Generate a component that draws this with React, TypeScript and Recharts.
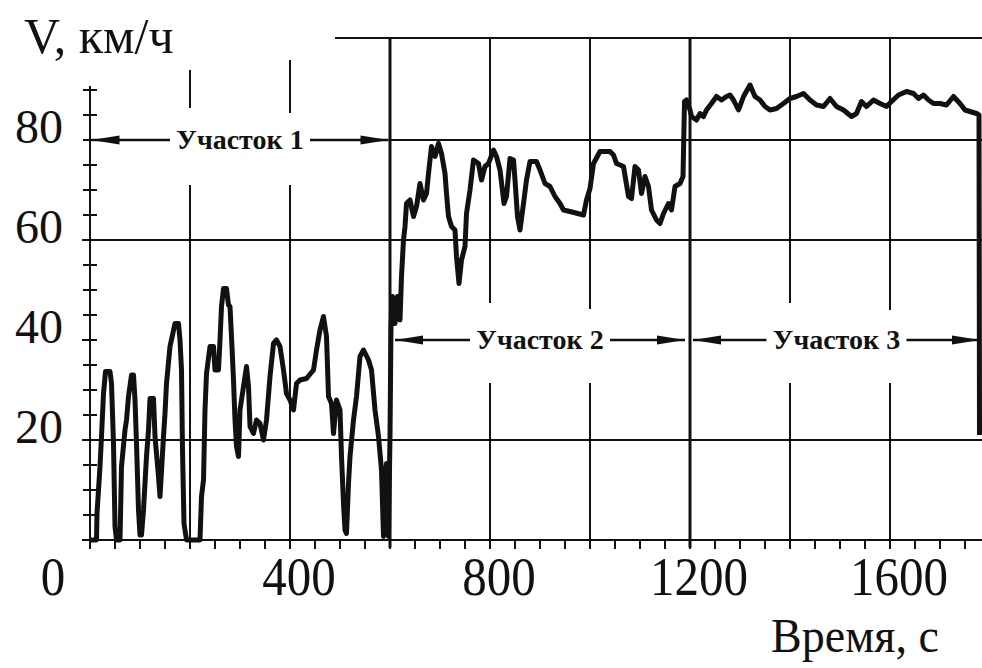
import { LineChart, Line, XAxis, YAxis, ReferenceLine, Label } from 'recharts';

// Участок 1: 0..600 c
const part1Time = [
  0, 13, 14, 20, 23, 27, 31, 40, 43, 47, 50, 53, 60, 63, 70, 73, 77, 83, 87, 90, 93, 97, 100, 103, 107,
  113, 117, 120, 127, 130, 137, 140, 147, 150, 153, 160, 170, 177, 180, 183, 185, 188, 193, 220, 223,
  227, 230, 233, 240, 247, 250, 257, 260, 263, 267, 273, 277, 280, 283, 287, 290, 293, 297, 300, 307,
  313, 317, 320, 327, 333, 340, 347, 353, 360, 367, 373, 380, 387, 393, 400, 407, 413, 420, 433, 447,
  453, 460, 467, 473, 477, 483, 487, 493, 500, 503, 507, 510, 513, 517, 520, 527, 533, 540, 547, 557,
  563, 570, 577, 583, 587, 590, 593, 597,
];
const part1Speed = [
  0, 0, 5.3, 14.7, 20.7, 29.3, 33.7, 33.7, 31.3, 19.3, 2.7, 0, 0, 14.7, 22, 24, 28.7, 33, 33, 28, 19.3, 6, 1, 1, 6,
  16.7, 22, 28.3, 28.3, 20.7, 12.7, 8.7, 20.7, 25.3, 31.3, 38.7, 43.3, 43.3, 40, 34, 18, 3.3, 0, 0, 8.7,
  12, 26, 33.3, 38.7, 38.7, 34, 34, 40, 46.7, 50.3, 50.3, 47, 46.7, 40.7, 32, 24, 18.7, 16.7, 26, 30.7,
  34.7, 30.7, 22.7, 21.3, 24, 23.3, 20, 24, 32.7, 39.3, 40, 38.7, 34, 29.3, 28, 26, 31.3, 32, 32.3, 34,
  38, 42, 44.7, 40.7, 28.7, 27.3, 21.3, 28, 26, 16.7, 7.3, 2, 1.3, 11.3, 16.7, 24, 28.7, 36.7, 38, 36,
  34, 26, 20.7, 14, 0.7, 11.3, 15.3, 0.7,
];

// Участок 2: 600..1200 c
const part2Time = [
  600, 602, 605, 610, 615, 620, 623, 627, 630, 633, 640, 647, 653, 660, 667, 673, 677, 683, 690, 697,
  703, 710, 713, 717, 723, 730, 733, 738, 743, 750, 753, 760, 767, 777, 783, 790, 797, 807, 813, 820,
  828, 833, 840, 847, 850, 855, 860, 867, 873, 880, 893, 900, 910, 920, 930, 940, 947, 960, 987, 993,
  1000, 1007, 1020, 1040, 1047, 1053, 1067, 1077, 1083, 1090, 1097, 1103, 1110, 1117, 1123, 1133, 1140,
  1147, 1157, 1163, 1170, 1180, 1186,
];
const part2Speed = [
  20.7, 42.7, 48.7, 43.3, 48.7, 44, 52.7, 60, 62.7, 67.3, 68, 64.7, 66.7, 71.3, 68, 69.3, 73.3, 78.7, 76.7, 79.3,
  77.3, 73.3, 69.3, 64.7, 62.7, 62, 56.7, 51.3, 56, 58.7, 65.3, 70, 76, 75.3, 72, 74.7, 75.3, 78, 76.7, 74,
  67.3, 68.7, 76.3, 76, 72, 64.7, 62, 67.3, 72, 75.7, 75.7, 74, 71.3, 70.7, 68.7, 67.3, 66, 65.7, 65, 68,
  70.3, 75.3, 77.7, 77.7, 77, 75.3, 74.7, 68.7, 68.3, 74.7, 74, 69.3, 72.7, 70.7, 66, 64, 63.3,
  65.3, 67.3, 66, 70.7, 71.3, 72.7,
];

// Участок 3: 1200..1780 c
const part3Time = [
  1189, 1193, 1200, 1203, 1213, 1220, 1227, 1233, 1243, 1253, 1263, 1273, 1280, 1287, 1297, 1307, 1320,
  1330, 1340, 1350, 1360, 1373, 1387, 1400, 1413, 1427, 1440, 1453, 1467, 1480, 1493, 1507, 1523, 1533,
  1543, 1553, 1567, 1580, 1593, 1603, 1617, 1633, 1647, 1657, 1667, 1677, 1687, 1700, 1713, 1727, 1740,
  1750, 1760, 1773, 1778, 1779,
];
const part3Speed = [
  87.7, 88, 86, 84.7, 84, 85.3, 84.7, 86, 87.3, 88.7, 88, 88.7, 89, 88, 86, 88.7, 91,
  88.7, 88, 86.7, 86, 86.3, 87.3, 88.3, 88.7, 89.3, 88, 87, 86.7, 88.3, 86.7, 86, 84.7, 85.3,
  87.7, 86.7, 88, 87.3, 86.7, 87.7, 89, 89.7, 89.3, 88.3, 89, 88, 87.3, 87.3, 87, 88.7, 87.3,
  86, 85.7, 85.3, 85, 21,
];

const xTicks = [
  0, 50, 100, 150, 200, 250, 300, 350, 400, 450, 500, 550, 600, 650, 700, 750, 800, 850, 900, 950,
  1000, 1050, 1100, 1150, 1200, 1250, 1300, 1350, 1400, 1450, 1500, 1550, 1600, 1650, 1700, 1750,
];
const xLabels = [400, 800, 1200, 1600];
const yTicks = [0, 5, 10, 15, 20, 25, 30, 35, 40, 45, 50, 55, 60, 65, 70, 75, 80, 85, 90];
const yLabels = [20, 40, 60, 80];

const sections = [
  { from: 3, to: 597, level: 80, text: 'Участок 1' },
  { from: 610, to: 1190, level: 40, text: 'Участок 2' },
  { from: 1206, to: 1780, level: 40, text: 'Участок 3' },
];

const data = [
  ...part1Time.map((t, i) => ({ t, v: part1Speed[i] })),
  ...part2Time.map((t, i) => ({ t, v: part2Speed[i] })),
  ...part3Time.map((t, i) => ({ t, v: part3Speed[i] })),
];

const SERIF = '"Liberation Serif", "Times New Roman", serif';
const INK = '#111';

// grid lines with the gaps left around the labels
const vGrid: { t: number; parts: [number, number][]; w: number }[] = [
  { t: 0, parts: [[0, 90.8]], w: 2 },
  { t: 200, parts: [[0, 71], [86.4, 94]], w: 2 },
  { t: 400, parts: [[0, 71], [85.4, 96]], w: 2 },
  { t: 600, parts: [[-1.5, 100.4]], w: 3 },
  { t: 800, parts: [[0, 31.4], [47.4, 100.4]], w: 2 },
  { t: 1000, parts: [[0, 31.4], [46.2, 100.4]], w: 2 },
  { t: 1200, parts: [[-1.5, 100.4]], w: 3 },
  { t: 1400, parts: [[0, 31.4], [47.4, 100.4]], w: 2 },
  { t: 1600, parts: [[0, 31.4], [46, 100.4]], w: 2 },
];
const hGrid: { v: number; from: number; to: number }[] = [
  { v: 0, from: -16, to: 1784 },
  { v: 20, from: -16, to: 1784 },
  { v: 60, from: -16, to: 1784 },
  { v: 80, from: 600, to: 1784 },
  { v: 40, from: -16, to: 0 },
  { v: 100.4, from: 490, to: 1784 },
];

function XTick({ x, y, payload }: any) {
  const v = payload.value;
  return (
    <g>
      <line x1={x} y1={y} x2={x} y2={y + 9} stroke={INK} strokeWidth={2} />
      {xLabels.includes(v) && (
        <text
          transform={`translate(${x + 9},${y + 55}) scale(1,1.1)`}
          textAnchor="middle"
          fontFamily={SERIF}
          fontSize={49}
          fill={INK}
        >
          {v}
        </text>
      )}
      {v === 0 && (
        <text
          transform={`translate(${x - 37},${y + 55}) scale(1,1.1)`}
          textAnchor="middle"
          fontFamily={SERIF}
          fontSize={49}
          fill={INK}
        >
          0
        </text>
      )}
    </g>
  );
}

function YTick({ x, y, payload }: any) {
  const v = payload.value;
  return (
    <g>
      <line x1={x - 7} y1={y} x2={x + 7} y2={y} stroke={INK} strokeWidth={2} />
      {yLabels.includes(v) && (
        <text x={x - 27} y={y + 3} textAnchor="end" fontFamily={SERIF} fontSize={48} fill={INK}>
          {v}
        </text>
      )}
    </g>
  );
}

function SectionArrow({ x1, y1, x2, text }: any) {
  const cx = (x1 + x2) / 2;
  const half = 70;
  const y = y1;
  return (
    <g>
      <line x1={x1} y1={y} x2={cx - half} y2={y} stroke={INK} strokeWidth={2.5} />
      <line x1={cx + half} y1={y} x2={x2} y2={y} stroke={INK} strokeWidth={2.5} />
      <polygon points={`${x1},${y} ${x1 + 28},${y - 4.5} ${x1 + 28},${y + 4.5}`} fill={INK} />
      <polygon points={`${x2},${y} ${x2 - 28},${y - 4.5} ${x2 - 28},${y + 4.5}`} fill={INK} />
      <text
        x={cx}
        y={y + 9}
        textAnchor="middle"
        fontFamily={SERIF}
        fontWeight="bold"
        fontSize={28}
        fill={INK}
      >
        {text}
      </text>
    </g>
  );
}

export default function App() {
  return (
    <div style={{ position: 'absolute', left: 0, top: 0, background: '#fff' }}>
      <LineChart width={982} height={668} data={data} margin={{ top: 40, right: 2, bottom: 0, left: 0 }}>
        <XAxis
          dataKey="t"
          type="number"
          domain={[0, 1780]}
          ticks={xTicks}
          interval={0}
          height={128}
          axisLine={false}
          tickLine={false}
          tickSize={0}
          tickMargin={0}
          tick={<XTick />}
        >
          <Label
            content={() => (
              <text
                transform="translate(855,652) scale(1,1.05)"
                textAnchor="middle"
                fontFamily={SERIF}
                fontSize={46}
                fill={INK}
              >
                Время, с
              </text>
            )}
          />
        </XAxis>
        <YAxis
          type="number"
          domain={[0, 100]}
          ticks={yTicks}
          interval={0}
          width={90}
          axisLine={false}
          tickLine={false}
          tickSize={0}
          tickMargin={0}
          tick={<YTick />}
        >
          <Label
            content={() => (
              <text x={24} y={53} fontFamily={SERIF} fontSize={50} fill={INK}>
                V, км/ч
              </text>
            )}
          />
        </YAxis>
        {hGrid.map((g) => (
          <ReferenceLine
            key={`h${g.v}-${g.from}`}
            segment={[{ x: g.from, y: g.v }, { x: g.to, y: g.v }]}
            stroke={INK}
            strokeWidth={2}
            ifOverflow="visible"
          />
        ))}
        {vGrid.flatMap((g) =>
          g.parts.map(([a, b]) => (
            <ReferenceLine
              key={`v${g.t}-${a}`}
              segment={[{ x: g.t, y: a }, { x: g.t, y: b }]}
              stroke={INK}
              strokeWidth={g.w}
              ifOverflow="visible"
            />
          )),
        )}
        {sections.map((s) => (
          <ReferenceLine
            key={s.text}
            segment={[{ x: s.from, y: s.level }, { x: s.to, y: s.level }]}
            ifOverflow="visible"
            shape={(p: any) => <SectionArrow {...p} text={s.text} />}
          />
        ))}
        <Line
          type="linear"
          dataKey="v"
          stroke={INK}
          strokeWidth={5}
          strokeLinejoin="round"
          dot={false}
          isAnimationActive={false}
        />
      </LineChart>
    </div>
  );
}
